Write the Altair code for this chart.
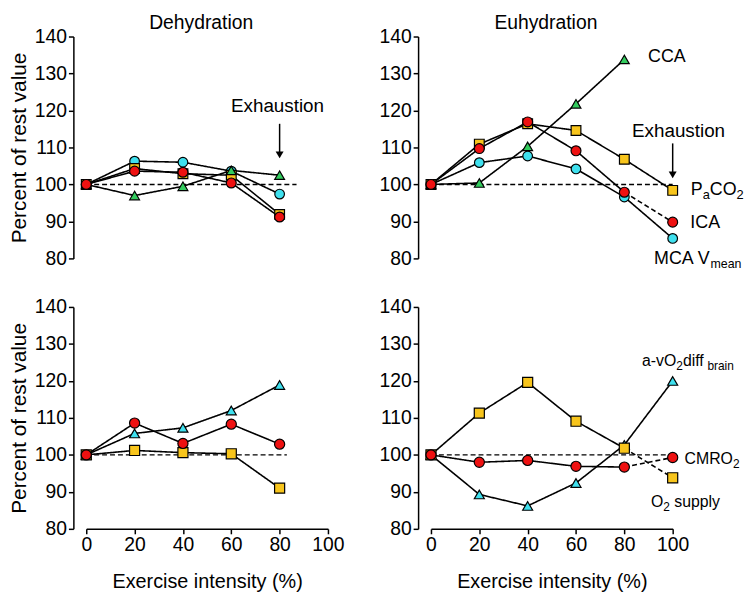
import altair as alt
import pandas as pd

FONT = "Liberation Sans"

# ---------------- data (percent of rest value) ----------------
INTENSITY = [0, 20, 40, 60, 80, 100]

# Dehydration, upper panel (to 80 %)
DEH_TOP_MCA = [100, 106.3, 106.0, 103.6, 97.4]
DEH_TOP_PACO2 = [100, 104.3, 102.9, 102.5, 91.9]
DEH_TOP_CCA = [100, 97.0, 99.5, 103.8, 102.5]
DEH_TOP_ICA = [100, 103.6, 103.3, 100.4, 91.2]

# Euhydration, upper panel (to 100 %)
EUH_TOP_MCA = [100, 105.9, 107.7, 104.2, 96.6, 85.4]
EUH_TOP_PACO2 = [100, 110.9, 116.4, 114.6, 106.8, 98.4]
EUH_TOP_CCA = [100, 100.4, 110.3, 121.8, 133.8]
EUH_TOP_ICA = [100, 109.7, 116.9, 109.1, 97.9, 89.8]

# Dehydration, lower panel
DEH_BOT_AVO2 = [100, 105.8, 107.3, 112.0, 118.9]
DEH_BOT_O2 = [100, 101.2, 100.6, 100.3, 91.0]
DEH_BOT_CMRO2 = [100, 108.6, 103.1, 108.3, 102.9]

# Euhydration, lower panel
EUH_BOT_AVO2 = [100, 89.3, 86.2, 92.4, 102.7, 120.0]
EUH_BOT_O2 = [100, 111.3, 119.6, 109.1, 101.8, 93.8]
EUH_BOT_CMRO2 = [100, 98.0, 98.5, 96.9, 96.7, 99.3]

SERIES_KEYS = ["mca", "paco2", "cca", "ica", "avo2", "o2", "cmro2"]
SHAPES = ["circle", "square", "triangle-up", "circle", "triangle-up", "square", "circle"]
FILLS = ["#3FE0EE", "#F8C51C", "#33CC5E", "#EE1111", "#3FE0EE", "#F8C51C", "#EE1111"]
SIZES = [95, 105, 125, 95, 125, 105, 95]

X_TICKS = [0, 20, 40, 60, 80, 100]
Y_TICKS = [80, 90, 100, 110, 120, 130, 140]

# Arial advance widths (per 1000 em) for laying out sub-scripted labels
AW = {"P": 667, "a": 556, "C": 722, "O": 778, "2": 556, "I": 278, "A": 667, "M": 833,
      " ": 278, "V": 667, "m": 833, "e": 556, "n": 556, "-": 333, "v": 500, "d": 556,
      "i": 222, "f": 278, "b": 556, "r": 333, "R": 722, "s": 500, "u": 556, "p": 556,
      "l": 222, "y": 500}


def tw(t, fs):
    return sum(AW.get(c, 556) for c in t) * fs / 1000.0


def xe(field, bottom):
    if bottom:
        axis = alt.Axis(values=X_TICKS, title="Exercise intensity (%)", domainColor="black",
                        domainWidth=1.5, tickColor="black", tickWidth=1.5, tickSize=5,
                        labelFont=FONT, labelFontSize=19.5, labelColor="black", labelPadding=2,
                        labelFlush=False, titleFont=FONT, titleFontSize=20,
                        titleFontWeight="normal", titleColor="black", titlePadding=18, grid=False)
    else:
        axis = None
    return alt.X(field, type="quantitative", scale=alt.Scale(domain=[0, 100], nice=False, zero=False),
                 axis=axis)


def ye(field, left):
    kw = dict(values=Y_TICKS, offset=13, domainColor="black", domainWidth=1.5, tickColor="black",
              tickWidth=1.5, tickSize=5, labelFont=FONT, labelFontSize=19.5, labelColor="black",
              labelPadding=2, grid=False)
    if left:
        axis = alt.Axis(title="Percent of rest value", titleFont=FONT, titleFontSize=21,
                        titleFontWeight="normal", titleColor="black", titlePadding=5, **kw)
    else:
        axis = alt.Axis(title=None, **kw)
    return alt.Y(field, type="quantitative", scale=alt.Scale(domain=[80, 140], nice=False, zero=False),
                 axis=axis)


def panel(series, dashed_last, ref_end, bottom, left, title=None, arrow=None, labels=()):
    pts, segs = [], []
    for key, vals in series:
        xs = INTENSITY[:len(vals)]
        for x, y in zip(xs, vals):
            pts.append({"s": key, "x": x, "y": y})
        n = len(vals)
        if key in dashed_last:
            for x, y in zip(xs[:n - 1], vals[:n - 1]):
                segs.append({"seg": key + "_a", "dash": "solid", "x": x, "y": y})
            for x, y in zip(xs[n - 2:], vals[n - 2:]):
                segs.append({"seg": key + "_b", "dash": "dashed", "x": x, "y": y})
        else:
            for x, y in zip(xs, vals):
                segs.append({"seg": key, "dash": "solid", "x": x, "y": y})
    pts = pd.DataFrame(pts)
    segs = pd.DataFrame(segs)

    layers = []
    ref = pd.DataFrame({"x": [0], "x2": [ref_end], "y": [100]})
    layers.append(alt.Chart(ref).mark_rule(color="black", strokeDash=[5, 3], strokeWidth=1.4).encode(
        x=xe("x", bottom), x2="x2", y=ye("y", left)))
    layers.append(alt.Chart(segs).mark_line(color="black", strokeWidth=1.6).encode(
        x=xe("x", bottom), y=ye("y", left), detail="seg:N",
        strokeDash=alt.StrokeDash("dash:N", scale=alt.Scale(domain=["solid", "dashed"],
                                                            range=[[1, 0], [5, 3]]), legend=None)))
    layers.append(alt.Chart(pts).mark_point(filled=True, stroke="black", strokeWidth=1.2, opacity=1).encode(
        x=xe("x", bottom), y=ye("y", left),
        shape=alt.Shape("s:N", scale=alt.Scale(domain=SERIES_KEYS, range=SHAPES), legend=None),
        fill=alt.Fill("s:N", scale=alt.Scale(domain=SERIES_KEYS, range=FILLS), legend=None),
        size=alt.Size("s:N", scale=alt.Scale(domain=SERIES_KEYS, range=SIZES), legend=None)))

    if arrow is not None:
        ax, ytop, yhead = arrow
        adf = pd.DataFrame({"x": [ax], "y": [ytop], "y2": [yhead]})
        layers.append(alt.Chart(adf).mark_rule(color="black", strokeWidth=1.5).encode(
            x=xe("x", bottom), y=ye("y", left), y2="y2"))
        layers.append(alt.Chart(adf).mark_point(shape="triangle-down", filled=True, color="black",
                                                size=64, opacity=1).encode(
            x=xe("x", bottom), y=ye("y2", left)))

    for (lx, ly, parts, fs, sfs, align) in labels:
        total = sum(tw(t, sfs if sub else fs) for t, sub in parts)
        dx = -total / 2 if align == "center" else 0.0
        for t, sub in parts:
            f = sfs if sub else fs
            lead = len(t) - len(t.lstrip())
            dx += tw(" " * lead, f)
            s = t.strip()
            if s:
                ldf = pd.DataFrame({"x": [lx], "y": [ly], "t": [s]})
                layers.append(alt.Chart(ldf).mark_text(
                    align="left", baseline="alphabetic", dx=dx, dy=4 if sub else 0,
                    font=FONT, fontSize=f, color="black").encode(
                    x=xe("x", bottom), y=ye("y", left), text="t:N"))
            dx += tw(s, f)

    ch = alt.layer(*layers).properties(width=244, height=224)
    if title:
        ch = ch.properties(title=alt.TitleParams(title, font=FONT, fontSize=19.5, fontWeight="normal",
                                                 color="black", dx=-6, offset=-7, frame="group"))
    return ch


tl = panel([("mca", DEH_TOP_MCA), ("paco2", DEH_TOP_PACO2), ("cca", DEH_TOP_CCA), ("ica", DEH_TOP_ICA)],
           dashed_last=(), ref_end=87, bottom=False, left=True, title="Dehydration",
           arrow=(80, 116.4, 108.0),
           labels=[(80, 119.6, [("Exhaustion", 0)], 19, 13, "center")])

tr = panel([("mca", EUH_TOP_MCA), ("paco2", EUH_TOP_PACO2), ("cca", EUH_TOP_CCA), ("ica", EUH_TOP_ICA)],
           dashed_last=("ica",), ref_end=100, bottom=False, left=False, title="Euhydration",
           arrow=(100, 111.1, 102.6),
           labels=[(103.3, 112.9, [("Exhaustion", 0)], 19, 13, "center"),
                   (89.8, 133.0, [("CCA", 0)], 18, 13, "left"),
                   (107.5, 97.1, [("P", 0), ("a", 1), ("CO", 0), ("2", 1)], 18, 13, "left"),
                   (107.3, 88.2, [("ICA", 0)], 18, 13, "left"),
                   (92.3, 78.4, [("MCA V", 0), ("mean", 1)], 18, 12.5, "left")])

bl = panel([("avo2", DEH_BOT_AVO2), ("o2", DEH_BOT_O2), ("cmro2", DEH_BOT_CMRO2)],
           dashed_last=(), ref_end=83, bottom=True, left=True)

br = panel([("avo2", EUH_BOT_AVO2), ("o2", EUH_BOT_O2), ("cmro2", EUH_BOT_CMRO2)],
           dashed_last=("o2", "cmro2"), ref_end=100, bottom=True, left=False,
           labels=[(87.3, 124.0, [("a-vO", 0), ("2", 1), ("diff", 0), (" brain", 1)], 16, 12, "left"),
                   (104.9, 97.6, [("CMRO", 0), ("2", 1)], 16, 12, "left"),
                   (91.0, 85.9, [("O", 0), ("2", 1), (" supply", 0)], 16, 12, "left")])

chart = alt.concat(tl, tr, bl, br, columns=2, spacing={"row": 49, "column": 104}, bounds="flush").properties(
    padding={"left": 0, "top": 2, "right": 0, "bottom": 0}
).configure_view(strokeWidth=0).configure_axis(grid=False)

chart.save("out.html", embed_options={"renderer": "svg", "actions": False})
